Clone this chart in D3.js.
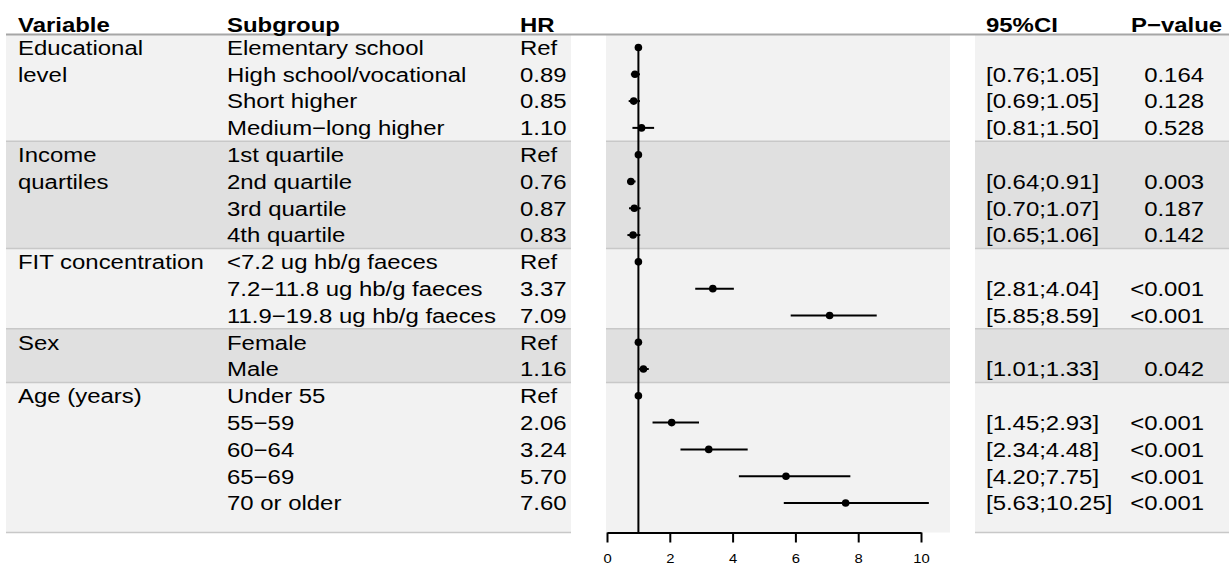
<!DOCTYPE html>
<html>
<head>
<meta charset="utf-8">
<script src="https://cdn.jsdelivr.net/npm/d3@7"></script>
<style>
  html, body { margin: 0; padding: 0; background: #fff; }
  svg { display: block; font-family: "Liberation Sans", Arial, sans-serif; }
</style>
</head>
<body>
<svg id="chart" width="1229" height="566"></svg>
<script>
// ---------------- DATA ----------------
const groupNames = [["Educational", "level"], ["Income", "quartiles"], ["FIT concentration"], ["Sex"], ["Age (years)"]];
const groupSizes = [4, 4, 3, 2, 5];
const subgroups = [
  "Elementary school", "High school/vocational", "Short higher", "Medium\u2212long higher",
  "1st quartile", "2nd quartile", "3rd quartile", "4th quartile",
  "<7.2 ug hb/g faeces", "7.2\u221211.8 ug hb/g faeces", "11.9\u221219.8 ug hb/g faeces",
  "Female", "Male",
  "Under 55", "55\u221259", "60\u221264", "65\u221269", "70 or older"
];
const hrValues = [1, 0.89, 0.85, 1.10, 1, 0.76, 0.87, 0.83, 1, 3.37, 7.09, 1, 1.16, 1, 2.06, 3.24, 5.70, 7.60];
const hrLabels = ["Ref", "0.89", "0.85", "1.10", "Ref", "0.76", "0.87", "0.83", "Ref", "3.37", "7.09", "Ref", "1.16", "Ref", "2.06", "3.24", "5.70", "7.60"];
const ciLower = [null, 0.76, 0.69, 0.81, null, 0.64, 0.70, 0.65, null, 2.81, 5.85, null, 1.01, null, 1.45, 2.34, 4.20, 5.63];
const ciUpper = [null, 1.05, 1.05, 1.50, null, 0.91, 1.07, 1.06, null, 4.04, 8.59, null, 1.33, null, 2.93, 4.48, 7.75, 10.25];
const ciLabels = ["", "[0.76;1.05]", "[0.69;1.05]", "[0.81;1.50]", "", "[0.64;0.91]", "[0.70;1.07]", "[0.65;1.06]", "", "[2.81;4.04]", "[5.85;8.59]", "", "[1.01;1.33]", "", "[1.45;2.93]", "[2.34;4.48]", "[4.20;7.75]", "[5.63;10.25]"];
const pLabels = ["", "0.164", "0.128", "0.528", "", "0.003", "0.187", "0.142", "", "<0.001", "<0.001", "", "0.042", "", "<0.001", "<0.001", "<0.001", "<0.001"];
const headers = ["Variable", "Subgroup", "HR", "95%CI", "P\u2212value"];
const xTicks = [0, 2, 4, 6, 8, 10];
const xDomain = [0, 10];

// ---------------- LAYOUT ----------------
const svg = d3.select("#chart");
const SX = 1.14;          // horizontal text stretch seen in the reference
const FS = 21;
const nRows = subgroups.length;
const y = d3.scaleLinear().domain([0, nRows - 1]).range([47.5, 503]);
const topY = 34.5;
const bottomY = 532.5;
const x = d3.scaleLinear().domain(xDomain).range([607, 921]);

const panels = [
  { x0: 6, x1: 571 },
  { x0: 606, x1: 950 },
  { x0: 975, x1: 1229 }
];
const colLeft = { variable: 18, subgroup: 227, hr: 520, ci: 986 };
const pRight = 1204;
const pHeaderLeft = 1131;

const bandFill = ["#f2f2f2", "#e0e0e0"];

const starts = [];
groupSizes.reduce((acc, s) => { starts.push(acc); return acc + s; }, 0);

function bandTop(g) { return g === 0 ? topY : (y(starts[g]) + y(starts[g] - 1)) / 2; }
function bandBottom(g) { return g === groupSizes.length - 1 ? bottomY : (y(starts[g] + groupSizes[g] - 1) + y(starts[g] + groupSizes[g])) / 2; }

const bg = svg.append("g");
panels.forEach(p => {
  groupSizes.forEach((s, g) => {
    bg.append("rect")
      .attr("x", p.x0).attr("width", p.x1 - p.x0)
      .attr("y", bandTop(g)).attr("height", bandBottom(g) - bandTop(g))
      .attr("fill", bandFill[g % 2]);
    if (g > 0) {
      bg.append("line")
        .attr("x1", p.x0).attr("x2", p.x1)
        .attr("y1", bandTop(g)).attr("y2", bandTop(g))
        .attr("stroke", "#c8c8c8").attr("stroke-width", 1.5);
    }
  });
});
[panels[0], panels[2]].forEach(p => {
  bg.append("line").attr("x1", p.x0).attr("x2", p.x1)
    .attr("y1", bottomY).attr("y2", bottomY)
    .attr("stroke", "#c8c8c8").attr("stroke-width", 1.5);
});
bg.append("line").attr("x1", 6).attr("x2", 1229)
  .attr("y1", topY).attr("y2", topY)
  .attr("stroke", "#a6a6a6").attr("stroke-width", 2);

function addText(g, str, tx, ty, anchor, bold, size) {
  return g.append("text")
    .attr("transform", `translate(${tx},${ty}) scale(${SX},1)`)
    .attr("text-anchor", anchor || "start")
    .attr("font-size", size || FS)
    .attr("font-weight", bold ? "bold" : "normal")
    .attr("fill", "#000")
    .text(str);
}

const tg = svg.append("g");
const base = 7.3;
const headY = 32;
addText(tg, headers[0], colLeft.variable, headY, "start", true);
addText(tg, headers[1], colLeft.subgroup, headY, "start", true);
addText(tg, headers[2], colLeft.hr, headY, "start", true);
addText(tg, headers[3], colLeft.ci, headY, "start", true);
addText(tg, headers[4], pHeaderLeft, headY, "start", true);

groupNames.forEach((lines, g) => {
  lines.forEach((ln, k) => addText(tg, ln, colLeft.variable, y(starts[g] + k) + base, "start"));
});
subgroups.forEach((s, i) => {
  addText(tg, s, colLeft.subgroup, y(i) + base, "start");
  addText(tg, hrLabels[i], colLeft.hr, y(i) + base, "start");
  if (ciLabels[i]) addText(tg, ciLabels[i], colLeft.ci, y(i) + base, "start");
  if (pLabels[i]) addText(tg, pLabels[i], pRight, y(i) + base, "end");
});

const fg = svg.append("g");
fg.append("line")
  .attr("x1", x(1)).attr("x2", x(1))
  .attr("y1", y(0)).attr("y2", bottomY)
  .attr("stroke", "#000").attr("stroke-width", 2);

fg.selectAll("line.ci")
  .data(d3.range(nRows).filter(i => ciLower[i] !== null))
  .join("line").attr("class", "ci")
  .attr("x1", i => x(ciLower[i])).attr("x2", i => x(ciUpper[i]))
  .attr("y1", i => y(i)).attr("y2", i => y(i))
  .attr("stroke", "#000").attr("stroke-width", 2);

fg.selectAll("circle.pt")
  .data(d3.range(nRows))
  .join("circle").attr("class", "pt")
  .attr("cx", i => x(hrValues[i])).attr("cy", i => y(i))
  .attr("r", 3.8).attr("fill", "#000");

const axis = d3.axisBottom(x).tickValues(xTicks).tickSize(10).tickSizeOuter(0).tickPadding(11);
const ag = svg.append("g").attr("transform", `translate(0,${bottomY})`).call(axis);
ag.select(".domain").attr("stroke", "#000").attr("stroke-width", 2);
ag.selectAll(".tick line").attr("stroke", "#000").attr("stroke-width", 2);
ag.selectAll(".tick text")
  .attr("font-size", 13)
  .attr("font-family", "Liberation Sans, Arial, sans-serif")
  .attr("fill", "#000")
  .attr("transform", `scale(${SX},1)`);
</script>
</body>
</html>
